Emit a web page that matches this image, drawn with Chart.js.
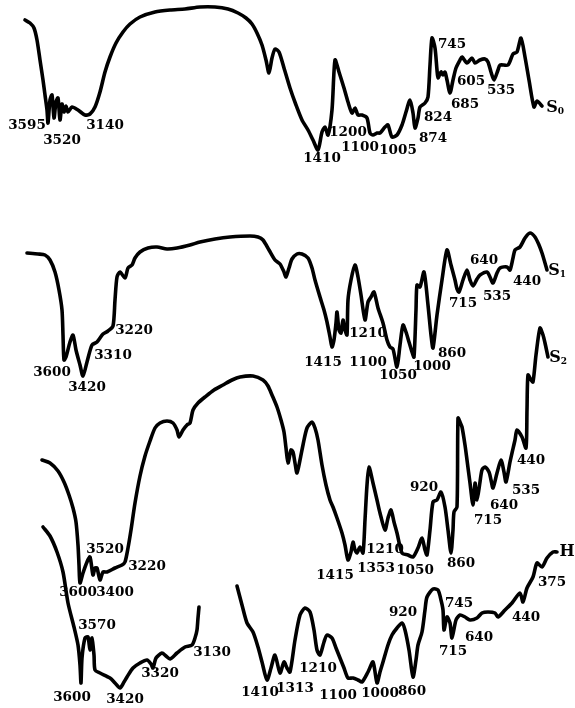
<!DOCTYPE html>
<html>
<head>
<meta charset="utf-8">
<script src="https://cdn.jsdelivr.net/npm/chart.js@4/dist/chart.umd.min.js"></script>
<style>
  html, body { margin: 0; padding: 0; background: #fff; }
  #wrap { width: 575px; height: 708px; }
</style>
</head>
<body>
<div id="wrap"><canvas id="c" width="575" height="708"></canvas></div>
<script>
// Trace points: [horizontal position, vertical (downward) level]
const traceS0 = [[25,20],[30,23],[34,28],[37,40],[40,60],[43,80],[45,95],[47,110],[48,123],[50,100],[52,95],[54,118],[56,102],[58,98],[60,120],[62,104],[64,112],[66,106],[68,112],[72,107],[78,110],[85,115],[90,114],[95,107],[100,92],[105,72],[110,57],[116,43],[123,32],[130,24],[140,17],[155,12],[170,10],[185,9],[200,7],[215,7],[228,9],[238,13],[246,18],[252,24],[257,33],[262,45],[266,60],[269,73],[272,58],[275,49],[279,52],[284,68],[290,88],[296,105],[302,120],[308,130],[313,140],[318,150],[322,132],[325,127],[328,135],[332,110],[335,60],[339,72],[344,88],[348,102],[352,113],[355,108],[358,115],[362,115],[367,118],[370,133],[373,135],[377,133],[380,133],[385,127],[388,125],[392,137],[397,135],[402,125],[406,112],[410,100],[413,113],[415,128],[418,118],[420,107],[425,103],[428,97],[430,65],[432,38],[435,48],[437,70],[438,78],[441,72],[443,75],[445,72],[447,80],[450,93],[453,80],[456,68],[460,60],[462,57],[467,63],[472,58],[475,63],[480,60],[485,59],[488,62],[491,72],[494,80],[498,70],[500,65],[508,65],[513,54],[517,52],[521,38],[525,57],[529,80],[534,107],[537,101],[542,106]];

const traceS1 = [[27,253],[38,254],[45,255],[50,260],[55,272],[59,290],[62,310],[63,335],[64,360],[66,357],[70,342],[73,335],[76,350],[80,365],[83,376],[87,362],[92,345],[97,342],[103,334],[108,331],[113,326],[115,300],[117,277],[120,272],[125,278],[128,268],[132,265],[135,258],[140,252],[148,248],[157,247],[167,249],[177,248],[190,245],[200,242],[215,239],[230,237],[250,236],[258,237],[263,240],[269,250],[275,260],[280,264],[284,272],[286,277],[289,268],[292,259],[297,254],[302,254],[308,258],[312,268],[315,280],[320,297],[324,310],[327,322],[330,337],[332,347],[334,340],[336,323],[337,312],[339,330],[341,333],[343,320],[345,330],[347,335],[348,300],[351,280],[355,265],[358,277],[361,295],[365,320],[368,302],[371,297],[374,292],[378,308],[383,323],[387,340],[390,347],[393,349],[397,367],[400,345],[403,325],[406,332],[409,342],[412,352],[414,357],[416,310],[417,285],[420,287],[424,272],[428,305],[431,335],[433,348],[437,315],[442,280],[447,250],[451,265],[455,280],[457,289],[459,292],[463,280],[467,270],[470,280],[473,286],[477,279],[480,275],[487,272],[490,277],[493,283],[497,273],[500,268],[507,267],[510,270],[513,258],[515,250],[520,247],[525,238],[530,233],[535,237],[539,245],[542,253],[545,263],[547,270]];

const traceS2 = [[42,460],[50,463],[58,471],[64,482],[69,495],[73,508],[76,522],[78,545],[79,565],[80,583],[83,573],[87,562],[90,557],[93,575],[95,568],[97,568],[100,580],[103,572],[107,572],[115,568],[122,565],[125,562],[128,548],[131,530],[135,503],[140,476],[145,456],[150,441],[155,428],[160,423],[167,421],[173,423],[177,430],[179,437],[183,430],[187,425],[190,423],[193,410],[198,403],[205,397],[214,390],[223,385],[232,380],[240,377],[253,376],[263,380],[268,386],[272,395],[277,407],[281,420],[284,432],[286,448],[288,463],[291,450],[293,452],[295,463],[297,473],[300,460],[303,445],[307,428],[312,422],[315,428],[318,440],[322,465],[326,485],[330,500],[333,507],[337,518],[342,533],[345,545],[348,560],[351,552],[353,542],[355,550],[357,553],[360,547],[363,553],[365,520],[367,485],[369,467],[373,483],[377,500],[380,513],[385,530],[388,518],[391,510],[394,522],[397,533],[402,553],[408,555],[413,557],[418,548],[422,538],[425,550],[427,555],[430,530],[433,502],[437,500],[441,492],[445,507],[448,530],[451,553],[453,530],[454,512],[457,507],[458,418],[460,422],[462,427],[465,445],[467,460],[470,483],[473,505],[475,483],[477,500],[480,482],[482,470],[485,467],[489,472],[491,480],[493,488],[497,473],[501,460],[504,472],[506,482],[510,462],[512,453],[515,440],[517,430],[522,437],[526,448],[527,410],[528,375],[531,380],[533,382],[536,355],[540,328],[543,335],[545,343],[548,357]];

const traceH1 = [[43,527],[50,536],[57,552],[63,572],[68,603],[74,627],[78,645],[80,665],[81,683],[82,658],[85,638],[88,637],[90,650],[92,638],[94,655],[95,670],[100,673],[110,678],[115,683],[120,688],[124,682],[127,677],[133,668],[140,663],[147,660],[151,664],[153,668],[156,658],[162,653],[166,656],[170,659],[177,653],[185,647],[192,645],[195,638],[197,630],[198,618],[199,607]];

const traceH2 = [[237,586],[242,605],[247,623],[253,632],[258,647],[262,662],[267,680],[271,668],[275,655],[280,673],[284,662],[287,668],[290,672],[295,640],[300,615],[305,608],[310,612],[314,630],[317,650],[320,655],[324,642],[327,635],[332,638],[336,648],[340,658],[344,668],[348,678],[353,678],[358,680],[362,682],[368,672],[373,662],[377,683],[380,672],[383,662],[388,645],[392,635],[397,628],[402,623],[405,630],[409,650],[413,677],[416,660],[418,645],[422,632],[425,610],[427,597],[433,589],[438,590],[441,600],[443,610],[444,630],[447,617],[450,623],[452,638],[456,620],[460,615],[465,617],[470,620],[477,618],[482,613],[488,612],[495,613],[498,617],[505,610],[512,603],[520,593],[523,602],[527,588],[533,577],[537,563],[542,567],[547,558],[553,552],[557,552]];

// Peak labels: [text, centre position, centre level]
const labelsS0 = [["3595",27,125],["3520",62,140],["3140",105,125],["1410",322,158],["1200",348,132],["1100",360,147],["1005",398,150],["874",433,138],["824",438,117],["745",452,44],["685",465,104],["605",471,81],["535",501,90]];
const labelsS1 = [["3600",52,372],["3420",87,387],["3310",113,355],["3220",134,330],["1415",323,362],["1210",368,333],["1100",368,362],["1050",398,375],["1000",432,366],["860",452,353],["715",463,303],["640",484,260],["535",497,296],["440",527,281]];
const labelsS2 = [["3520",105,549],["3220",147,566],["3600",78,592],["3400",115,592],["1415",335,575],["1353",376,568],["1210",385,549],["1050",415,570],["920",424,487],["860",461,563],["715",488,520],["640",504,505],["535",526,490],["440",531,460]];
const labelsH = [["3570",97,625],["3600",72,697],["3420",125,699],["3320",160,673],["3130",212,652],["1410",260,692],["1313",295,688],["1210",318,668],["1100",338,695],["1000",380,693],["860",412,691],["920",403,612],["745",459,603],["715",453,651],["640",479,637],["440",526,617],["375",552,582]];
const seriesNames = [["S","0",555,108],["S","1",557,271],["S","2",558,358],["H","",567,552]];

const toPts = arr => arr.map(p => ({x: p[0], y: p[1]}));
const hData = toPts(traceH1).concat([{x: 218, y: null}], toPts(traceH2));

const lineStyle = {
  showLine: true, pointRadius: 0, borderColor: '#000', borderWidth: 3.6,
  tension: 0.25, fill: false, borderCapStyle: 'round', borderJoinStyle: 'round', spanGaps: false
};

const FONT = '"DejaVu Serif", "Liberation Serif", serif';
const labelPlugin = {
  id: 'peakLabels',
  afterDatasetsDraw(chart) {
    const ctx = chart.ctx, xs = chart.scales.x, ys = chart.scales.y;
    ctx.save();
    ctx.fillStyle = '#000';
    ctx.textAlign = 'center';
    ctx.textBaseline = 'middle';
    ctx.font = 'bold 13.5px ' + FONT;
    [labelsS0, labelsS1, labelsS2, labelsH].forEach(list => {
      list.forEach(([t, x, y]) => ctx.fillText(t, xs.getPixelForValue(x), ys.getPixelForValue(y)));
    });
    seriesNames.forEach(([main, sub, x, y]) => {
      const px = xs.getPixelForValue(x), py = ys.getPixelForValue(y);
      ctx.font = 'bold 16px ' + FONT;
      ctx.textAlign = 'center';
      const w = ctx.measureText(main).width;
      ctx.fillText(main, px - (sub ? 3 : 0), py);
      if (sub) {
        ctx.font = 'bold 9px ' + FONT;
        ctx.fillText(sub, px - 3 + w / 2 + 3, py + 4);
      }
    });
    ctx.restore();
  }
};

new Chart(document.getElementById('c'), {
  type: 'scatter',
  data: {
    datasets: [
      Object.assign({label: 'S0', data: toPts(traceS0)}, lineStyle),
      Object.assign({label: 'S1', data: toPts(traceS1)}, lineStyle),
      Object.assign({label: 'S2', data: toPts(traceS2)}, lineStyle),
      Object.assign({label: 'H', data: hData}, lineStyle)
    ]
  },
  options: {
    responsive: false,
    animation: false,
    devicePixelRatio: 1,
    layout: { padding: 0 },
    plugins: { legend: { display: false }, tooltip: { enabled: false } },
    scales: {
      x: { type: 'linear', min: 0, max: 575, display: false },
      y: { type: 'linear', min: 0, max: 708, reverse: true, display: false }
    }
  },
  plugins: [labelPlugin]
});
</script>
</body>
</html>
